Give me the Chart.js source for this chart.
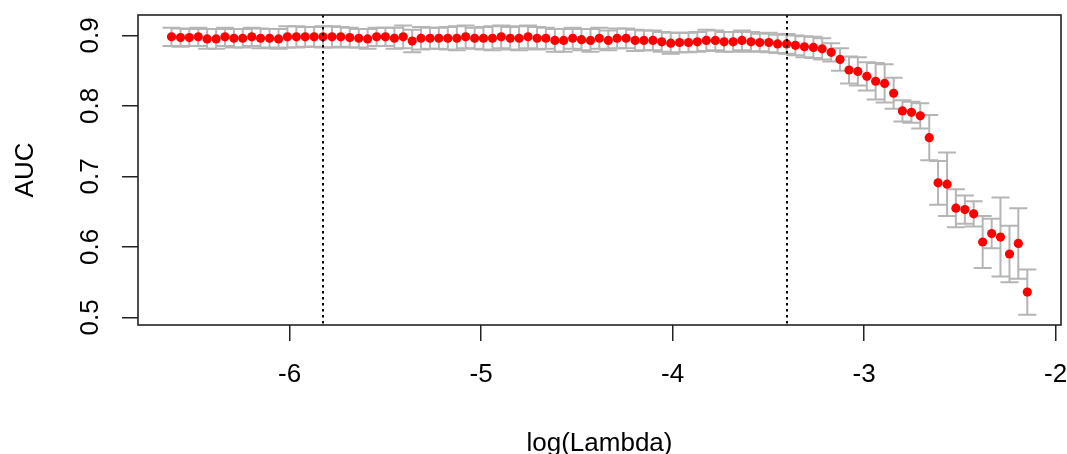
<!DOCTYPE html>
<html>
<head>
<meta charset="utf-8">
<script src="https://cdn.jsdelivr.net/npm/chart.js@4/dist/chart.umd.min.js"></script>
<style>
html,body{margin:0;padding:0;background:#fff;}
#wrap{width:1067px;height:454px;position:relative;}
</style>
</head>
<body>
<div id="wrap"><canvas id="c"></canvas></div>
<script>
// log(lambda) for each fitted lambda
const logLambda = [
  -6.617,-6.570,-6.524,-6.477,-6.431,-6.384,-6.338,-6.291,-6.245,-6.198,
  -6.152,-6.105,-6.058,-6.012,-5.965,-5.919,-5.872,-5.826,-5.779,-5.733,
  -5.686,-5.639,-5.593,-5.546,-5.500,-5.453,-5.407,-5.360,-5.314,-5.267,
  -5.221,-5.174,-5.127,-5.081,-5.034,-4.988,-4.941,-4.895,-4.848,-4.802,
  -4.755,-4.708,-4.662,-4.615,-4.569,-4.522,-4.476,-4.429,-4.383,-4.336,
  -4.290,-4.243,-4.196,-4.150,-4.103,-4.057,-4.010,-3.964,-3.917,-3.871,
  -3.824,-3.777,-3.731,-3.684,-3.638,-3.591,-3.545,-3.498,-3.452,-3.405,
  -3.359,-3.312,-3.265,-3.219,-3.172,-3.126,-3.079,-3.033,-2.986,-2.940,
  -2.893,-2.846,-2.800,-2.753,-2.707,-2.660,-2.614,-2.567,-2.521,-2.474,
  -2.428,-2.381,-2.334,-2.288,-2.241,-2.195,-2.148
];
// mean cross-validated AUC
const auc = [
  0.898,0.897,0.897,0.898,0.895,0.895,0.898,0.896,0.896,0.898,
  0.896,0.896,0.895,0.898,0.898,0.898,0.898,0.898,0.898,0.898,
  0.897,0.896,0.895,0.898,0.898,0.896,0.898,0.892,0.896,0.896,
  0.896,0.896,0.896,0.898,0.896,0.896,0.896,0.898,0.896,0.896,
  0.898,0.896,0.896,0.893,0.893,0.896,0.894,0.893,0.896,0.893,
  0.896,0.896,0.893,0.893,0.893,0.891,0.889,0.890,0.890,0.891,
  0.893,0.893,0.891,0.891,0.893,0.891,0.890,0.890,0.888,0.888,
  0.886,0.884,0.883,0.881,0.876,0.866,0.851,0.849,0.842,0.835,
  0.832,0.818,0.793,0.791,0.786,0.755,0.691,0.689,0.655,0.653,
  0.647,0.607,0.619,0.614,0.590,0.605,0.536
];
// standard error (half height of each error bar)
const aucSd = [
  0.013,0.013,0.012,0.013,0.014,0.014,0.013,0.013,0.013,0.013,
  0.014,0.013,0.014,0.015,0.015,0.014,0.014,0.015,0.015,0.014,
  0.014,0.013,0.014,0.013,0.013,0.015,0.016,0.016,0.016,0.015,
  0.015,0.016,0.017,0.016,0.015,0.016,0.017,0.016,0.016,0.017,
  0.016,0.016,0.015,0.016,0.016,0.015,0.015,0.016,0.015,0.014,
  0.014,0.014,0.015,0.014,0.014,0.014,0.015,0.014,0.014,0.014,
  0.015,0.014,0.014,0.014,0.014,0.014,0.0125,0.014,0.013,0.014,
  0.014,0.015,0.015,0.015,0.013,0.016,0.019,0.020,0.020,0.026,
  0.027,0.022,0.015,0.015,0.018,0.032,0.031,0.045,0.027,0.020,
  0.018,0.037,0.021,0.056,0.040,0.050,0.032
];
const xTicks = [-6, -5, -4, -3, -2];
const yTicks = [0.5, 0.6, 0.7, 0.8, 0.9];
const lambdaMinLog = -5.826;
const lambda1seLog = -3.405;
const xRange = [-6.792, -1.972];
const yRange = [0.4893, 0.929];

const FONT = "'Liberation Sans', Arial, Helvetica, sans-serif";

const errorBars = {
  id: 'errorBars',
  beforeDatasetsDraw(chart) {
    const {ctx, scales: {x, y}} = chart;
    ctx.save();
    ctx.strokeStyle = '#b5b5b5';
    ctx.lineWidth = 2;
    const cap = 9;
    logLambda.forEach((lx, i) => {
      const px = x.getPixelForValue(lx);
      const top = y.getPixelForValue(auc[i] + aucSd[i]);
      const bot = y.getPixelForValue(auc[i] - aucSd[i]);
      ctx.beginPath();
      ctx.moveTo(px, top); ctx.lineTo(px, bot);
      ctx.moveTo(px - cap, top); ctx.lineTo(px + cap, top);
      ctx.moveTo(px - cap, bot); ctx.lineTo(px + cap, bot);
      ctx.stroke();
    });
    ctx.restore();
  },
  afterDatasetsDraw(chart) {
    const {ctx, chartArea: a, scales: {x}} = chart;
    ctx.save();
    ctx.strokeStyle = '#000';
    ctx.lineWidth = 2;
    ctx.setLineDash([2.5, 3.5]);
    [lambdaMinLog, lambda1seLog].forEach(v => {
      const px = Math.round(x.getPixelForValue(v));
      ctx.beginPath();
      ctx.moveTo(px, a.top);
      ctx.lineTo(px, a.bottom);
      ctx.stroke();
    });
    ctx.setLineDash([]);
    ctx.strokeStyle = '#222';
    ctx.lineWidth = 1.6;
    ctx.strokeRect(a.left, a.top, a.right - a.left, a.bottom - a.top);
    ctx.restore();
  }
};

new Chart(document.getElementById('c'), {
  type: 'scatter',
  data: {
    datasets: [{
      data: logLambda.map((v, i) => ({x: v, y: auc[i]})),
      backgroundColor: '#ff0000',
      borderColor: '#ff0000',
      borderWidth: 0,
      pointRadius: 4.6,
      pointHoverRadius: 4.6
    }]
  },
  options: {
    responsive: true,
    maintainAspectRatio: false,
    animation: false,
    events: [],
    layout: {padding: {top: 15, right: 6, left: 0, bottom: 0}},
    plugins: {legend: {display: false}, tooltip: {enabled: false}},
    scales: {
      x: {
        type: 'linear',
        min: xRange[0], max: xRange[1],
        afterBuildTicks: s => { s.ticks = xTicks.map(v => ({value: v})); },
        afterFit: s => { s.height = 129; s.paddingLeft = 0; s.paddingRight = 0; },
        grid: {display: true, drawOnChartArea: false, drawTicks: true, tickLength: 16, color: '#222', lineWidth: 1.5},
        border: {display: false},
        ticks: {
          color: '#000', font: {family: FONT, size: 26},
          padding: 18, minRotation: 0, maxRotation: 0, autoSkip: false,
          callback: v => String(v)
        },
        title: {display: true, text: 'log(Lambda)', color: '#000', font: {family: FONT, size: 26}, padding: {top: 0, bottom: -5}}
      },
      y: {
        type: 'linear',
        min: yRange[0], max: yRange[1],
        afterBuildTicks: s => { s.ticks = yTicks.map(v => ({value: v})); },
        afterFit: s => { s.width = 138; s.paddingTop = 0; s.paddingBottom = 0; },
        grid: {display: true, drawOnChartArea: false, drawTicks: true, tickLength: 16, color: '#222', lineWidth: 1.5},
        border: {display: false},
        ticks: {
          color: '#000', font: {family: FONT, size: 26},
          padding: 13, minRotation: 90, maxRotation: 90, crossAlign: 'center', autoSkip: false,
          callback: v => Number(v).toFixed(1)
        },
        title: {display: true, text: 'AUC', color: '#000', font: {family: FONT, size: 26}, padding: {top: 10, bottom: 0}}
      }
    }
  },
  plugins: [errorBars]
});
</script>
</body>
</html>
